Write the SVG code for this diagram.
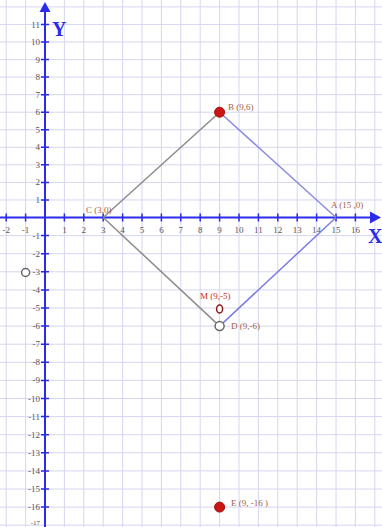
<svg xmlns="http://www.w3.org/2000/svg" width="382" height="527" viewBox="0 0 382 527">
<style>
.grid{stroke:#d6d6f0;stroke-width:1;fill:none}
.axis{stroke:#2b2bea;stroke-width:2;fill:none}
.tick{stroke:#2b2bea;stroke-width:1.5}
.num{font-family:"Liberation Serif",serif;font-size:9px;fill:#555}
.ax{font-family:"Liberation Serif",serif;font-size:20px;font-weight:bold;fill:#2b2bea}
.lbl{font-family:"Liberation Serif",serif;font-size:9px;fill:#a0604a}
.lblm{font-family:"Liberation Serif",serif;font-size:9px;fill:#cc2a2a}
.dot{fill:#cc1414;stroke:#a01010;stroke-width:1}
.open{fill:#fff;stroke:#666;stroke-width:1.5}
</style>
<rect width="382" height="527" fill="#fff"/>
<g id="grid" class="grid">
<path d="M6.2 0V527M25.6 0V527M64.4 0V527M83.8 0V527M103.2 0V527M122.6 0V527M142 0V527M161.4 0V527M180.8 0V527M200.2 0V527M219.6 0V527M239 0V527M258.4 0V527M277.8 0V527M297.2 0V527M316.6 0V527M336 0V527M355.4 0V527M374.8 0V527"/>
<path d="M0 6.9H382M0 24.45H382M0 42H382M0 59.55H382M0 77.1H382M0 94.65H382M0 112.2H382M0 129.75H382M0 147.3H382M0 164.85H382M0 182.4H382M0 199.95H382M0 235.6H382M0 253.7H382M0 271.8H382M0 289.9H382M0 308H382M0 326.1H382M0 344.2H382M0 362.3H382M0 380.4H382M0 398.5H382M0 416.6H382M0 434.7H382M0 452.8H382M0 470.9H382M0 489H382M0 507.1H382M0 525.2H382"/>
</g>
<g id="axes">
<path class="axis" d="M0 217.5H372M45 527V9"/>
<polygon points="381,217.5 370,211.5 370,223.5" fill="#2b2bea"/>
<polygon points="45,2 39.5,12 50.5,12" fill="#2b2bea"/>
<path class="tick" d="M6.2 213.5v8M25.6 213.5v8M64.4 213.5v8M83.8 213.5v8M103.2 213.5v8M122.6 213.5v8M142 213.5v8M161.4 213.5v8M180.8 213.5v8M200.2 213.5v8M219.6 213.5v8M239 213.5v8M258.4 213.5v8M277.8 213.5v8M297.2 213.5v8M316.6 213.5v8M336 213.5v8M355.4 213.5v8"/>
<path class="tick" d="M41 24.45h8M41 42h8M41 59.55h8M41 77.1h8M41 94.65h8M41 112.2h8M41 129.75h8M41 147.3h8M41 164.85h8M41 182.4h8M41 199.95h8M41 235.6h8M41 253.7h8M41 271.8h8M41 289.9h8M41 308h8M41 326.1h8M41 344.2h8M41 362.3h8M41 380.4h8M41 398.5h8M41 416.6h8M41 434.7h8M41 452.8h8M41 470.9h8M41 489h8M41 507.1h8"/>
<text class="ax" x="368" y="243">X</text>
<text class="ax" x="52" y="36">Y</text>
</g>
<g id="xlabels" class="num" text-anchor="middle">
<text x="6.2" y="233">-2</text><text x="25.6" y="233">-1</text><text x="64.4" y="233">1</text><text x="83.8" y="233">2</text><text x="103.2" y="233">3</text><text x="122.6" y="233">4</text><text x="142" y="233">5</text><text x="161.4" y="233">6</text><text x="180.8" y="233">7</text><text x="200.2" y="233">8</text><text x="219.6" y="233">9</text><text x="239" y="233">10</text><text x="258.4" y="233">11</text><text x="277.8" y="233">12</text><text x="297.2" y="233">13</text><text x="316.6" y="233">14</text><text x="336" y="233">15</text><text x="355.4" y="233">16</text>
</g>
<g id="ylabels" class="num" text-anchor="end">
<text x="40" y="27.5">11</text><text x="40" y="45">10</text><text x="40" y="62.5">9</text><text x="40" y="80">8</text><text x="40" y="97.5">7</text><text x="40" y="115">6</text><text x="40" y="132.8">5</text><text x="40" y="150.3">4</text><text x="40" y="167.9">3</text><text x="40" y="185.4">2</text><text x="40" y="203">1</text>
<text x="40" y="238.6">-1</text><text x="40" y="256.7">-2</text><text x="40" y="274.8">-3</text><text x="40" y="292.9">-4</text><text x="40" y="311">-5</text><text x="40" y="329.1">-6</text><text x="40" y="347.2">-7</text><text x="40" y="365.3">-8</text><text x="40" y="383.4">-9</text><text x="40" y="401.5">-10</text><text x="40" y="419.6">-11</text><text x="40" y="437.7">-12</text><text x="40" y="455.8">-13</text><text x="40" y="473.9">-14</text><text x="40" y="492">-15</text><text x="40" y="510.1">-16</text><text x="40" y="524.5" font-size="7">-17</text>
</g>
<g id="connectors" fill="none" stroke-width="1.5">
<line x1="103.2" y1="217.5" x2="219.6" y2="112.2" stroke="#8c8c8c"/>
<line x1="219.6" y1="112.2" x2="336" y2="217.5" stroke="#8c8ce0"/>
<line x1="336" y1="217.5" x2="219.6" y2="326.1" stroke="#7c7ce4"/>
<line x1="219.6" y1="326.1" x2="103.2" y2="217.5" stroke="#8c8c8c"/>
</g>
<g id="nodeA"><text class="lbl" x="331" y="208">A (15 ,0)</text></g>
<g id="nodeB"><circle class="dot" cx="219.6" cy="112.2" r="5"/><text class="lbl" x="228" y="110">B (9,6)</text></g>
<g id="nodeC"><text class="lbl" x="86" y="213">C (3,0)</text></g>
<g id="nodeD"><circle class="open" cx="219.6" cy="326.1" r="4.5"/><text class="lbl" x="231" y="329">D (9,-6)</text></g>
<g id="nodeM"><ellipse cx="219.6" cy="309" rx="3" ry="4" fill="#fff" stroke="#8a1a1a" stroke-width="1.5"/><text class="lblm" x="200" y="299">M (9,-5)</text></g>
<g id="nodeE"><circle class="dot" cx="219.6" cy="507.1" r="5"/><text class="lbl" x="231" y="506">E (9, -16 )</text></g>
<g id="nodeP"><circle class="open" cx="25.6" cy="272.5" r="4"/></g>
</svg>
